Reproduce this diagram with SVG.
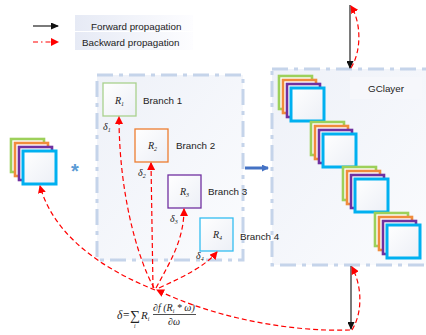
<svg xmlns="http://www.w3.org/2000/svg" width="426" height="335" viewBox="0 0 426 335">
<style>
.lbl{font-family:"Liberation Sans",Arial,sans-serif;font-size:9.8px;fill:#222}
.math{font-family:"Liberation Serif","Times New Roman",serif;font-style:italic;fill:#222}
.frame{fill:url(#boxg);stroke:#c5d4ea;stroke-width:3;stroke-dasharray:16 6 4 6}
.bwd{fill:none;stroke:#ff0000;stroke-width:1.2;stroke-dasharray:5 3}
.fwd{fill:none;stroke:#222;stroke-width:1.2}
.br{stroke-width:1.3}
.sq{fill:#fff;stroke-width:2.6}
</style>
<defs>
<linearGradient id="boxg" x1="0" y1="0" x2="1" y2="1">
<stop offset="0" stop-color="#eef1f8"/><stop offset="1" stop-color="#fbfcfe"/>
</linearGradient>
<linearGradient id="wg" x1="0" y1="0" x2="1" y2="1">
<stop offset="0" stop-color="#ffffff"/><stop offset="1" stop-color="#eceff6"/>
</linearGradient>
<linearGradient id="lg" x1="0" y1="0" x2="1" y2="0">
<stop offset="0" stop-color="#e6eaf5"/><stop offset="1" stop-color="#fdfdff"/>
</linearGradient>
<marker id="ar" markerWidth="8" markerHeight="8" refX="7" refY="4" orient="auto" markerUnits="userSpaceOnUse">
<path d="M0,0 L8,4 L0,8 Z" fill="#ff0000"/>
</marker>
<marker id="ak" markerWidth="8" markerHeight="7" refX="7" refY="3.5" orient="auto" markerUnits="userSpaceOnUse">
<path d="M0,0 L8,3.5 L0,7 Z" fill="#111"/>
</marker>
<marker id="ab" markerWidth="7" markerHeight="7" refX="6" refY="3.5" orient="auto" markerUnits="userSpaceOnUse">
<path d="M0,0 L7,3.5 L0,7 Z" fill="#4472c4"/>
</marker>
<g id="stack">
<rect class="sq" x="0" y="0" width="33" height="33" stroke="#9dd05a"/>
<rect class="sq" x="4" y="4" width="33" height="33" stroke="#f08c3c"/>
<rect class="sq" x="8" y="8" width="33" height="33" stroke="#7030a0"/>
<rect x="12" y="12" width="33" height="33" fill="url(#wg)" stroke="#00b0f0" stroke-width="3"/>
</g>
</defs>
<rect width="426" height="335" fill="#fff"/>

<g id="legend">
<rect x="75" y="15" width="118" height="16" fill="url(#lg)"/>
<rect x="75" y="32" width="118" height="18" fill="url(#lg)"/>
<line x1="33" y1="26" x2="58" y2="26" class="fwd" marker-end="url(#ak)"/>
<line x1="33" y1="42" x2="58" y2="42" stroke="#ff0000" stroke-width="1.2" stroke-dasharray="5 3 1.5 3" marker-end="url(#ar)"/>
<text class="lbl" x="91" y="29.5">Forward propagation</text>
<text class="lbl" x="82" y="45.5">Backward propagation</text>
</g>

<g id="branch-frame"><rect class="frame" x="97" y="75" width="146" height="185"/></g>
<g id="gclayer-frame">
<rect class="frame" x="272" y="69" width="170" height="196"/>
<rect x="350" y="77" width="72" height="22" fill="#f6f7fb"/>
<text class="lbl" x="386" y="92" text-anchor="middle">GClayer</text>
</g>

<g id="input-stack"><use href="#stack" x="11" y="139"/></g>
<g id="asterisk"><text x="75" y="178" text-anchor="middle" font-family="Liberation Sans,sans-serif" font-weight="bold" font-size="20" fill="#5b9bd5">*</text></g>

<g id="branch1">
<rect class="br" x="103" y="83" width="33" height="33" fill="url(#wg)" stroke="#a9d18e"/>
<text class="math" x="115" y="104" font-size="10">R<tspan font-size="6" dy="2">1</tspan></text>
<text class="lbl" x="143" y="104">Branch 1</text>
<text class="math" x="103" y="130" font-size="10">δ<tspan font-size="6" dy="2">1</tspan></text>
</g>
<g id="branch2">
<rect class="br" x="135" y="129" width="33" height="33" fill="url(#wg)" stroke="#ed7d31"/>
<text class="math" x="148" y="149" font-size="10">R<tspan font-size="6" dy="2">2</tspan></text>
<text class="lbl" x="176" y="149">Branch 2</text>
<text class="math" x="138" y="176" font-size="10">δ<tspan font-size="6" dy="2">2</tspan></text>
</g>
<g id="branch3">
<rect class="br" x="168" y="175" width="33" height="33" fill="url(#wg)" stroke="#7030a0"/>
<text class="math" x="180" y="195" font-size="10">R<tspan font-size="6" dy="2">3</tspan></text>
<text class="lbl" x="208" y="195">Branch 3</text>
<text class="math" x="170" y="222" font-size="10">δ<tspan font-size="6" dy="2">3</tspan></text>
</g>
<g id="branch4">
<rect class="br" x="200" y="218" width="33" height="33" fill="url(#wg)" stroke="#33bdf2"/>
<text class="math" x="213" y="238" font-size="10">R<tspan font-size="6" dy="2">4</tspan></text>
<text class="lbl" x="240" y="240">Branch 4</text>
<text class="math" x="196" y="259" font-size="10">δ<tspan font-size="6" dy="2">4</tspan></text>
</g>

<g id="gc-stacks">
<use href="#stack" x="279" y="76"/>
<use href="#stack" x="311" y="122"/>
<use href="#stack" x="343" y="167"/>
<use href="#stack" x="375" y="213"/>
</g>

<g id="formula">
<text class="math" x="117" y="319" font-size="11.5">δ=</text>
<text x="130" y="320" font-family="Liberation Serif,serif" font-size="14" fill="#222">∑</text>
<text class="math" x="134" y="328" font-size="5.5">i</text>
<text class="math" x="141" y="319" font-size="11">R<tspan font-size="6" dy="2">i</tspan></text>
<text class="math" x="153" y="311" font-size="10">∂f (R<tspan font-size="6" dy="2">i</tspan><tspan dy="-2"> * ω)</tspan></text>
<line x1="153" y1="314.5" x2="196" y2="314.5" stroke="#222" stroke-width="0.8"/>
<text class="math" x="174" y="325" font-size="10" text-anchor="middle">∂ω</text>
</g>

<g id="connectors">
<line x1="245" y1="168" x2="268" y2="168" stroke="#4472c4" stroke-width="3" marker-end="url(#ab)"/>
<line x1="350" y1="5" x2="350" y2="68" class="fwd" marker-end="url(#ak)"/>
<path class="bwd" d="M351,68 C362,50 361,22 351,6" marker-end="url(#ar)"/>
<line x1="351" y1="266" x2="351" y2="329" class="fwd" marker-end="url(#ak)"/>
<path class="bwd" d="M352,330 C363,312 362,286 352,267" marker-end="url(#ar)"/>
<path class="bwd" d="M350,330 C290,332 215,318 157,290" marker-end="url(#ar)"/>
<path class="bwd" d="M155,290 C110,272 55,240 40,186" marker-end="url(#ar)"/>
<path class="bwd" d="M154,288 C136,255 119,190 119,117" marker-end="url(#ar)"/>
<path class="bwd" d="M153,288 L151,163" marker-end="url(#ar)"/>
<path class="bwd" d="M156,288 C170,262 184,240 184,209" marker-end="url(#ar)"/>
<path class="bwd" d="M159,288 C185,276 205,266 217,252" marker-end="url(#ar)"/>
</g>
</svg>
